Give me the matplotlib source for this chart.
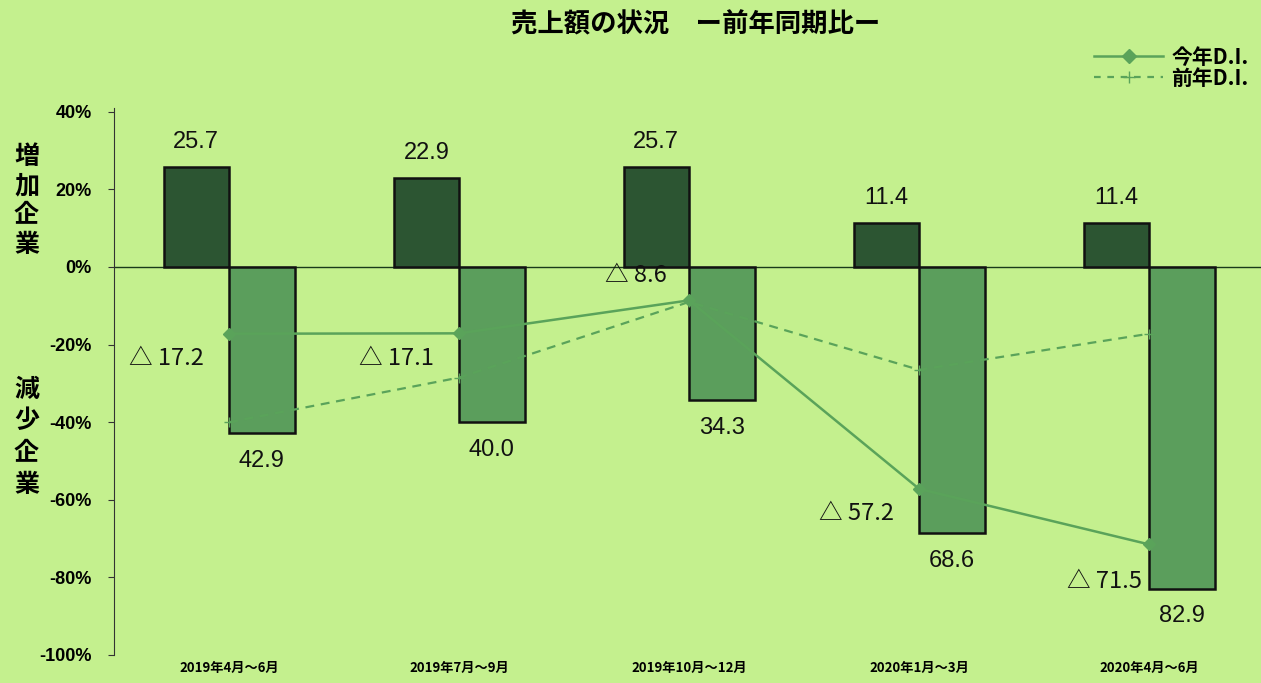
import matplotlib
matplotlib.use("Agg")
import matplotlib.pyplot as plt
import numpy as np
from matplotlib.lines import Line2D

plt.rcParams['font.family'] = ['Liberation Sans', 'Noto Sans CJK JP', 'DejaVu Sans']

categories = ["2019年4月～6月", "2019年7月～9月", "2019年10月～12月", "2020年1月～3月", "2020年4月～6月"]
increase = [25.7, 22.9, 25.7, 11.4, 11.4]
decrease = [-42.9, -40.0, -34.3, -68.6, -82.9]
di_this = [-17.2, -17.1, -8.6, -57.2, -71.5]
di_prev = [-40.0, -28.5, -9.0, -26.5, -17.2]
yticks = [40, 20, 0, -20, -40, -60, -80, -100]

bg = "#c4f08e"
dark = "#2c5532"
light = "#5b9e5c"
linec = "#5aa35a"
jp = ['Noto Sans CJK JP', 'DejaVu Sans']
num = ['Liberation Sans', 'Noto Sans CJK JP']

fig = plt.figure(figsize=(12.61, 6.83), dpi=100, facecolor=bg)
ax = fig.add_axes([0.0905, 0.041, 0.912, 0.801])
ax.set_facecolor(bg)

x = np.arange(len(categories))
w = 0.285
ax.bar(x - w / 2, increase, w, color=dark, edgecolor="#111", linewidth=1.8, zorder=2)
ax.bar(x + w / 2, decrease, w, color=light, edgecolor="#111", linewidth=1.8, zorder=2)

ax.plot(x, di_this, color=linec, lw=1.8, marker="D", ms=6, zorder=3)
ax.plot(x, di_prev, color=linec, lw=1.6, ls=(0, (4, 3)), marker="+", ms=7, zorder=3)

ax.axhline(0, color="#1a3a1a", lw=1.0, zorder=1)

for xi, v in zip(x, increase):
    ax.annotate(f"{v:.1f}", (xi - w / 2, v), xytext=(0, 10), textcoords="offset points",
                ha="center", va="bottom", fontsize=17, color="#111", family=num)
for xi, v in zip(x, decrease):
    ax.annotate(f"{-v:.1f}", (xi + w / 2, v), xytext=(0, -12), textcoords="offset points",
                ha="center", va="top", fontsize=17, color="#111", family=num)

offs = [(-18, -18), (-18, -18), (-16, 18), (-18, -18), (-5, -27)]
for xi, v, (dx, dy) in zip(x, di_this, offs):
    ax.annotate(f"△ {-v:.1f}", (xi, v), xytext=(dx, dy), textcoords="offset points",
                ha="right", va="center", fontsize=17, color="#111",
                family=['DejaVu Sans'] if False else ['Noto Sans CJK JP', 'Liberation Sans'])

ax.set_xlim(-0.5, 4.5)
ax.set_ylim(-100, 41)
ax.set_yticks(yticks)
ax.set_yticklabels([f"{t}%" for t in yticks], fontsize=13, fontweight="bold", family=num)
ax.set_xticks(x)
ax.set_xticklabels(categories, fontsize=9.5, fontweight="bold", family=['Noto Sans CJK JP'])
ax.tick_params(axis="x", length=0, pad=4)
ax.tick_params(axis="y", length=4, direction="out", color="#333", pad=12)
for s in ["top", "right", "bottom"]:
    ax.spines[s].set_visible(False)
ax.spines["left"].set_color("#333")

fig.text(0.552, 0.963, "売上額の状況　ー前年同期比ー", ha="center", va="center",
         fontsize=19, fontweight="bold", family=jp)
fig.text(0.021, 0.706, "増\n加\n企\n業", ha="center", va="center", fontsize=18,
         fontweight="bold", family=jp, linespacing=1.28)
fig.text(0.021, 0.36, "減\n少\n企\n業", ha="center", va="center", fontsize=18,
         fontweight="bold", family=jp, linespacing=1.4)

handles = [Line2D([], [], color=linec, lw=1.8, marker="D", ms=7),
           Line2D([], [], color=linec, lw=1.6, ls=(0, (3, 3)), marker="+", ms=8)]
leg = fig.legend(handles, ["今年D.I.", "前年D.I."], loc="upper right",
                 bbox_to_anchor=(1.0, 0.95), frameon=False, handlelength=3.3,
                 prop={'family': jp, 'size': 15, 'weight': 'bold'},
                 labelspacing=0.0, borderaxespad=0.2, handletextpad=0.4)

fig.savefig("out.png", dpi=100, facecolor=bg)
